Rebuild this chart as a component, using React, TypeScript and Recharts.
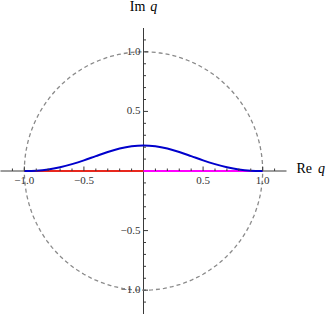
import React from "react";
import { ComposedChart, Line, XAxis, YAxis, ReferenceDot, ReferenceLine } from "recharts";

// Blue curve (Re q, Im q)
const curveX = [-1, -0.9, -0.8, -0.7, -0.6, -0.5, -0.4, -0.3, -0.2, -0.1, 0, 0.1, 0.2, 0.3, 0.4, 0.5, 0.6, 0.7, 0.8, 0.9, 1];
const curveY = [0, 0.003, 0.013, 0.032, 0.058, 0.089, 0.125, 0.16, 0.189, 0.208, 0.215, 0.208, 0.189, 0.16, 0.125, 0.089, 0.058, 0.032, 0.013, 0.003, 0];

// Red segment and magenta segment on the real axis
const redX = [-1, 0];
const redY = [0, 0];
const magentaX = [0, 1];
const magentaY = [0, 0];

// Unit circle
const circleRadius = 1;
const circleSegments = 180;

// Ticks
const majorTicks = [-1, -0.5, 0.5, 1];
const majorLabels = ["\u22121.0", "\u22120.5", "0.5", "1.0"];
const minorTicks = [-1.1, -0.9, -0.8, -0.7, -0.6, -0.4, -0.3, -0.2, -0.1, 0.1, 0.2, 0.3, 0.4, 0.6, 0.7, 0.8, 0.9, 1.1];

const axisMin = -1.2;
const axisMax = 1.2;

const curveData = curveX.map((x, i) => ({ x, y: curveY[i] }));
const redData = redX.map((x, i) => ({ x, y: redY[i] }));
const magentaData = magentaX.map((x, i) => ({ x, y: magentaY[i] }));
const circleData = Array.from({ length: circleSegments + 1 }, (_, i) => {
  const t = (2 * Math.PI * i) / circleSegments;
  return { x: circleRadius * Math.cos(t), y: circleRadius * Math.sin(t) };
});

const AXIS = "#3a3a3a";
const LABEL = "#333";
const FONT = "'Liberation Serif', 'Times New Roman', serif";

export default function App() {
  return (
    <div style={{ position: "absolute", left: 0, top: 0 }}>
      <ComposedChart
        width={332}
        height={317}
        margin={{ top: 28, right: 45.5, bottom: 3, left: 0.5 }}
      >
        <XAxis type="number" dataKey="x" domain={[axisMin, axisMax]} hide allowDataOverflow />
        <YAxis type="number" dataKey="y" domain={[axisMin, axisMax]} hide allowDataOverflow />
        <ReferenceLine y={0} stroke={AXIS} strokeWidth={1} />
        <ReferenceLine x={0} stroke={AXIS} strokeWidth={1} />
        {minorTicks.map((t) => (
          <ReferenceDot
            key={"xm" + t}
            x={t}
            y={0}
            shape={(p: any) => <line x1={p.cx} x2={p.cx} y1={p.cy} y2={p.cy - 2.5} stroke={AXIS} strokeWidth={1} />}
          />
        ))}
        {minorTicks.map((t) => (
          <ReferenceDot
            key={"ym" + t}
            x={0}
            y={t}
            shape={(p: any) => <line x1={p.cx} x2={p.cx + 2.5} y1={p.cy} y2={p.cy} stroke={AXIS} strokeWidth={1} />}
          />
        ))}
        {majorTicks.map((t, i) => (
          <ReferenceDot
            key={"xM" + t}
            x={t}
            y={0}
            shape={(p: any) => (
              <g>
                <line x1={p.cx} x2={p.cx} y1={p.cy} y2={p.cy - 4.5} stroke={AXIS} strokeWidth={1} />
                <text x={p.cx} y={p.cy + 13} textAnchor="middle" fontSize={11} fontFamily={FONT} fill={LABEL}>
                  {majorLabels[i]}
                </text>
              </g>
            )}
          />
        ))}
        {majorTicks.map((t, i) => (
          <ReferenceDot
            key={"yM" + t}
            x={0}
            y={t}
            shape={(p: any) => (
              <g>
                <line x1={p.cx} x2={p.cx + 4.5} y1={p.cy} y2={p.cy} stroke={AXIS} strokeWidth={1} />
                <text x={p.cx - 3} y={p.cy + 3} textAnchor="end" fontSize={11} fontFamily={FONT} fill={LABEL}>
                  {majorLabels[i]}
                </text>
              </g>
            )}
          />
        ))}
        <ReferenceDot
          x={axisMax}
          y={0}
          shape={(p: any) => (
            <text x={p.cx + 10} y={p.cy + 2} fontSize={14} fontFamily={FONT} fill="#000">
              Re<tspan dx={6} fontStyle="italic">q</tspan>
            </text>
          )}
        />
        <ReferenceDot
          x={0}
          y={axisMax}
          shape={(p: any) => (
            <text x={p.cx} y={p.cy - 17} textAnchor="middle" fontSize={14} fontFamily={FONT} fill="#000">
              Im<tspan dx={5} fontStyle="italic">q</tspan>
            </text>
          )}
        />
        <Line
          data={circleData}
          dataKey="y"
          type="linear"
          stroke="#8a8a8a"
          strokeWidth={1.3}
          strokeDasharray="4 3"
          dot={false}
          isAnimationActive={false}
        />
        <Line data={redData} dataKey="y" type="linear" stroke="#e8281e" strokeWidth={2} dot={false} isAnimationActive={false} />
        <Line data={magentaData} dataKey="y" type="linear" stroke="#ff00ff" strokeWidth={2} dot={false} isAnimationActive={false} />
        <Line data={curveData} dataKey="y" type="monotone" stroke="#0000cc" strokeWidth={2} dot={false} isAnimationActive={false} />
      </ComposedChart>
    </div>
  );
}
